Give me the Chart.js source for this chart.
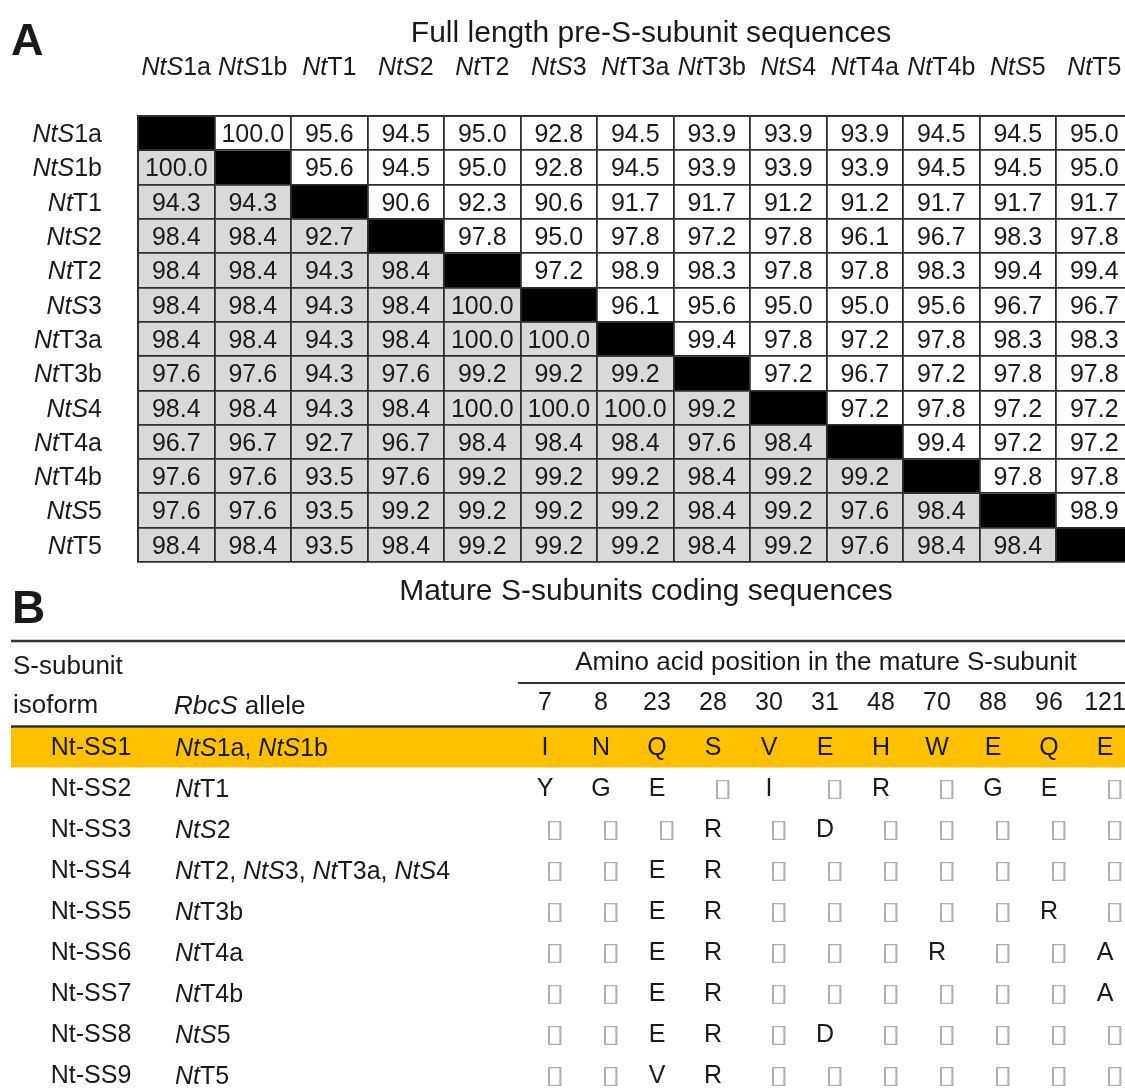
<!DOCTYPE html>
<html>
<head>
<meta charset="utf-8">
<title>RbcS identity matrix and S-subunit isoforms</title>
<script src="https://cdn.jsdelivr.net/npm/chart.js@4.4.1/dist/chart.umd.min.js"></script>
<style>
  html, body { margin: 0; padding: 0; background: #fff; overflow: hidden; }
  #page { position: relative; width: 1125px; height: 1088px; overflow: hidden; }
  .layer { position: absolute; left: 0; top: 0; }
</style>
</head>
<body>
<div id="page">
  <div class="layer" style="width:1140px;height:580px"><canvas id="identityChart"></canvas></div>
  <div class="layer" style="width:1140px;height:1100px"><canvas id="residueChart"></canvas></div>
</div>
<script>
// ---------- Panel A data : % identity, full length pre-S-subunit ----------
const alleles = ["NtS1a", "NtS1b", "NtT1", "NtS2", "NtT2", "NtS3", "NtT3a", "NtT3b", "NtS4", "NtT4a", "NtT4b", "NtS5", "NtT5"];

const rowS1a = [null, 100.0, 95.6, 94.5, 95.0, 92.8, 94.5, 93.9, 93.9, 93.9, 94.5, 94.5, 95.0];
const rowS1b = [100.0, null, 95.6, 94.5, 95.0, 92.8, 94.5, 93.9, 93.9, 93.9, 94.5, 94.5, 95.0];
const rowT1  = [94.3, 94.3, null, 90.6, 92.3, 90.6, 91.7, 91.7, 91.2, 91.2, 91.7, 91.7, 91.7];
const rowS2  = [98.4, 98.4, 92.7, null, 97.8, 95.0, 97.8, 97.2, 97.8, 96.1, 96.7, 98.3, 97.8];
const rowT2  = [98.4, 98.4, 94.3, 98.4, null, 97.2, 98.9, 98.3, 97.8, 97.8, 98.3, 99.4, 99.4];
const rowS3  = [98.4, 98.4, 94.3, 98.4, 100.0, null, 96.1, 95.6, 95.0, 95.0, 95.6, 96.7, 96.7];
const rowT3a = [98.4, 98.4, 94.3, 98.4, 100.0, 100.0, null, 99.4, 97.8, 97.2, 97.8, 98.3, 98.3];
const rowT3b = [97.6, 97.6, 94.3, 97.6, 99.2, 99.2, 99.2, null, 97.2, 96.7, 97.2, 97.8, 97.8];
const rowS4  = [98.4, 98.4, 94.3, 98.4, 100.0, 100.0, 100.0, 99.2, null, 97.2, 97.8, 97.2, 97.2];
const rowT4a = [96.7, 96.7, 92.7, 96.7, 98.4, 98.4, 98.4, 97.6, 98.4, null, 99.4, 97.2, 97.2];
const rowT4b = [97.6, 97.6, 93.5, 97.6, 99.2, 99.2, 99.2, 98.4, 99.2, 99.2, null, 97.8, 97.8];
const rowS5  = [97.6, 97.6, 93.5, 99.2, 99.2, 99.2, 99.2, 98.4, 99.2, 97.6, 98.4, null, 98.9];
const rowT5  = [98.4, 98.4, 93.5, 98.4, 99.2, 99.2, 99.2, 98.4, 99.2, 97.6, 98.4, 98.4, null];

const identityRows = [rowS1a, rowS1b, rowT1, rowS2, rowT2, rowS3, rowT3a, rowT3b, rowS4, rowT4a, rowT4b, rowS5, rowT5];

// ---------- Panel B data : mature S-subunit isoforms ----------
const isoforms = ["Nt-SS1", "Nt-SS2", "Nt-SS3", "Nt-SS4", "Nt-SS5", "Nt-SS6", "Nt-SS7", "Nt-SS8", "Nt-SS9"];
const isoformAlleles = ["NtS1a, NtS1b", "NtT1", "NtS2", "NtT2, NtS3, NtT3a, NtS4", "NtT3b", "NtT4a", "NtT4b", "NtS5", "NtT5"];
const aaPositions = ["7", "8", "23", "28", "30", "31", "48", "70", "88", "96", "121"];

// null = same residue as Nt-SS1 (shown as an empty box)
const resSS1 = ["I", "N", "Q", "S", "V", "E", "H", "W", "E", "Q", "E"];
const resSS2 = ["Y", "G", "E", null, "I", null, "R", null, "G", "E", null];
const resSS3 = [null, null, null, "R", null, "D", null, null, null, null, null];
const resSS4 = [null, null, "E", "R", null, null, null, null, null, null, null];
const resSS5 = [null, null, "E", "R", null, null, null, null, null, "R", null];
const resSS6 = [null, null, "E", "R", null, null, null, "R", null, null, "A"];
const resSS7 = [null, null, "E", "R", null, null, null, null, null, null, "A"];
const resSS8 = [null, null, "E", "R", null, "D", null, null, null, null, null];
const resSS9 = [null, null, "V", "R", null, null, null, null, null, null, null];

const residueRows = [resSS1, resSS2, resSS3, resSS4, resSS5, resSS6, resSS7, resSS8, resSS9];

// ---------- Style ----------
const FAMILY = '"Liberation Sans", Arial, Helvetica, sans-serif';
const INK = "#1a1a1a";
const GRID = "#2e2e2e";
const DIAG = "#000000";
const UPPER = "#ffffff";
const LOWER = "#d9d9d9";
const HIGHLIGHT = "#ffc000";
const BOX = "#b0b0b0";

const font = (size, italic = false, bold = false) =>
  `${italic ? "italic " : ""}${bold ? "bold " : ""}${size}px ${FAMILY}`;

// draw a run of segments [{text, italic}] with one alignment
function drawRich(ctx, segs, x, y, align, size) {
  let total = 0;
  segs.forEach(s => { ctx.font = font(size, s.italic); total += ctx.measureText(s.text).width; });
  let cx = align === "center" ? x - total / 2 : align === "right" ? x - total : x;
  ctx.textAlign = "left";
  segs.forEach(s => {
    ctx.font = font(size, s.italic);
    ctx.fillText(s.text, cx, y);
    cx += ctx.measureText(s.text).width;
  });
}

// "NtS1a" -> italic "NtS" + "1a" ; "NtT3b" -> italic "Nt" + "T3b"
function alleleSegs(name) {
  const m = name.match(/^Nt(S?)(.*)$/);
  return [{ text: "Nt" + m[1], italic: true }, { text: m[2], italic: false }];
}

function alleleListSegs(list) {
  const segs = [];
  list.split(", ").forEach((n, i) => {
    if (i) segs.push({ text: ", ", italic: false });
    segs.push(...alleleSegs(n));
  });
  return segs;
}

// ---------- Panel A : text layer ----------
const identityText = {
  id: "identityText",
  afterDraw(chart) {
    const { ctx, scales: { x, y } } = chart;
    ctx.save();
    ctx.fillStyle = INK;

    // panel letter + title
    ctx.textAlign = "left";
    ctx.textBaseline = "alphabetic";
    ctx.font = font(45, false, true);
    ctx.fillText("A", 11, 55);
    ctx.textBaseline = "middle";
    ctx.textAlign = "center";
    ctx.font = font(30);
    ctx.fillText("Full length pre-S-subunit sequences", 651, 34);

    // column headers / row labels
    alleles.forEach((name, c) => drawRich(ctx, alleleSegs(name), x.getPixelForValue(c), 68, "center", 25));
    alleles.forEach((name, r) => drawRich(ctx, alleleSegs(name), x.left - 36, y.getPixelForValue(r + 0.5) + 2, "right", 25));

    // cell values
    ctx.font = font(25);
    ctx.textAlign = "center";
    identityRows.forEach((row, r) => {
      row.forEach((v, c) => {
        if (v == null) return;
        ctx.fillText(v.toFixed(1), x.getPixelForValue(c), y.getPixelForValue(r + 0.5) + 2);
      });
    });
    ctx.restore();
  }
};

new Chart(document.getElementById("identityChart"), {
  type: "bar",
  data: {
    labels: alleles,
    datasets: identityRows.map((row, r) => ({
      label: alleles[r],
      data: row.map(() => [r, r + 1]),
      backgroundColor: row.map((v, c) => (c === r ? DIAG : c > r ? UPPER : LOWER)),
      borderWidth: 0,
      grouped: false,
      categoryPercentage: 1,
      barPercentage: 1,
    })),
  },
  options: {
    responsive: true,
    maintainAspectRatio: false,
    animation: false,
    layout: { padding: { left: 138, top: 116, right: 7.5, bottom: 18 } },
    plugins: { legend: { display: false }, tooltip: { enabled: false } },
    scales: {
      x: {
        type: "category",
        position: "top",
        offset: true,
        grid: { offset: true, color: GRID, lineWidth: 1.8, drawTicks: false, z: 1 },
        border: { color: GRID, width: 1.8, z: 1 },
        ticks: { display: false },
        afterFit: (s) => { s.height = 0; },
      },
      y: {
        type: "linear",
        min: 0,
        max: 13,
        reverse: true,
        grid: { color: GRID, lineWidth: 1.8, drawTicks: false, z: 1 },
        border: { color: GRID, width: 1.8, z: 1 },
        ticks: { display: false, stepSize: 1 },
        afterFit: (s) => { s.width = 0; },
      },
    },
  },
  plugins: [identityText],
});

// ---------- Panel B : table layer ----------
const residueTable = {
  id: "residueTable",
  beforeDatasetsDraw(chart) {
    const { ctx, scales: { x, y } } = chart;
    const pitch = y.getPixelForValue(1) - y.getPixelForValue(0);
    const top = y.getPixelForValue(0) - pitch / 2;
    ctx.save();
    // highlighted reference isoform
    ctx.fillStyle = HIGHLIGHT;
    ctx.fillRect(11, top, chart.width - 11, pitch);
    // rules
    ctx.strokeStyle = "#333";
    ctx.lineWidth = 2.5;
    ctx.beginPath();
    ctx.moveTo(11, 641); ctx.lineTo(chart.width, 641);
    ctx.moveTo(11, top); ctx.lineTo(chart.width, top);
    ctx.stroke();
    ctx.lineWidth = 2;
    ctx.beginPath();
    ctx.moveTo(x.left + 1, 683); ctx.lineTo(chart.width, 683);
    ctx.stroke();
    ctx.restore();
  },
  afterDraw(chart) {
    const { ctx, scales: { x, y } } = chart;
    ctx.save();
    ctx.fillStyle = INK;

    ctx.textAlign = "left";
    ctx.textBaseline = "alphabetic";
    ctx.font = font(46, false, true);
    ctx.fillText("B", 12, 623);

    ctx.textBaseline = "middle";
    ctx.textAlign = "center";
    ctx.font = font(30);
    ctx.fillText("Mature S-subunits coding sequences", 646, 592);

    ctx.textAlign = "left";
    ctx.font = font(26);
    ctx.fillText("S-subunit", 13, 667);
    ctx.fillText("isoform", 13, 706);
    drawRich(ctx, [{ text: "RbcS", italic: true }, { text: " allele", italic: false }], 174, 707, "left", 26);
    ctx.textAlign = "center";
    ctx.font = font(26);
    ctx.fillText("Amino acid position in the mature S-subunit", 826, 663);

    isoforms.forEach((iso, r) => {
      const py = y.getPixelForValue(r) + 1;
      ctx.fillStyle = INK;
      ctx.textAlign = "center";
      ctx.font = font(25);
      ctx.fillText(iso, 91, py);
      drawRich(ctx, alleleListSegs(isoformAlleles[r]), 175, py + 1, "left", 25);
    });

    chart.data.datasets.forEach((ds, r) => {
      const meta = chart.getDatasetMeta(r);
      meta.data.forEach((pt, i) => {
        const aa = residueRows[r][i];
        ctx.textAlign = "center";
        if (aa) {
          ctx.fillStyle = INK;
          ctx.font = font(25);
          ctx.fillText(aa, pt.x, pt.y + 1);
        } else {
          // unchanged residue: light box, a little wider than the glyph
          ctx.save();
          ctx.fillStyle = BOX;
          ctx.font = '25px "DejaVu Sans"';
          ctx.translate(pt.x + 10, pt.y + 1);
          ctx.scale(1.45, 1);
          ctx.fillText("\u25AF", 0, 0);
          ctx.restore();
        }
      });
    });
    ctx.restore();
  }
};

new Chart(document.getElementById("residueChart"), {
  type: "line",
  data: {
    labels: aaPositions,
    datasets: residueRows.map((row, r) => ({
      label: isoforms[r],
      data: row.map((aa, i) => ({ x: aaPositions[i], y: isoforms[r] })),
      showLine: false,
      pointRadius: 0,
      pointHoverRadius: 0,
    })),
  },
  options: {
    responsive: true,
    maintainAspectRatio: false,
    animation: false,
    layout: { padding: { left: 517, top: 686.5, right: 7, bottom: 4.5 } },
    plugins: { legend: { display: false }, tooltip: { enabled: false } },
    scales: {
      x: {
        type: "category",
        position: "top",
        offset: true,
        grid: { display: false, drawTicks: false },
        border: { display: false },
        ticks: { color: INK, font: { family: FAMILY, size: 25 }, padding: 8, maxRotation: 0, autoSkip: false },
        afterFit: (s) => { s.height = 40; },
      },
      y: {
        type: "category",
        labels: isoforms,
        offset: true,
        display: false,
      },
    },
  },
  plugins: [residueTable],
});
</script>
</body>
</html>
